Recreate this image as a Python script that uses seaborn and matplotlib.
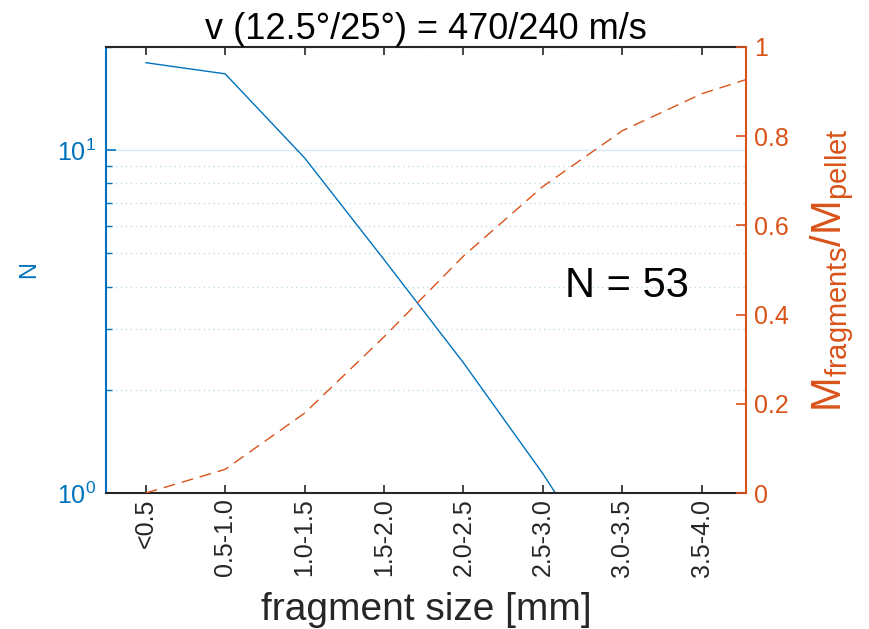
import numpy as np
import pandas as pd
import matplotlib
matplotlib.use('Agg')
import matplotlib.pyplot as plt
from matplotlib.ticker import LogLocator, NullFormatter, FixedLocator
import seaborn as sns

# fragment size bins and values
size_bins = ['<0.5', '0.5-1.0', '1.0-1.5', '1.5-2.0', '2.0-2.5',
             '2.5-3.0', '3.0-3.5', '3.5-4.0', '4.0-4.5']
n_fragments = [18.0, 16.7, 9.5, 4.8, 2.4, 1.14, 0.5, np.nan, np.nan]
mass_ratio = [0.0, 0.053, 0.179, 0.350, 0.531, 0.687, 0.812, 0.895, 0.952]
n_pellets = 53
title_text = 'v (12.5°/25°) = 470/240 m/s'
ratio_ticks = [0, 0.2, 0.4, 0.6, 0.8, 1]
ratio_labels = ['0', '0.2', '0.4', '0.6', '0.8', '1']

BLUE = '#0072BD'
ORANGE = '#D95319'
DARK = '#262626'

sns.set_theme(style='white')
plt.rcParams['font.family'] = ['Liberation Sans', 'DejaVu Sans']
plt.rcParams['mathtext.fontset'] = 'custom'
plt.rcParams['mathtext.rm'] = 'Liberation Sans'
plt.rcParams['mathtext.it'] = 'Liberation Sans:italic'
plt.rcParams['mathtext.default'] = 'regular'

df = pd.DataFrame({
    'pos': np.arange(len(size_bins)),
    'N': n_fragments,
    'ratio': mass_ratio,
})

fig = plt.figure(figsize=(8.69, 6.29), dpi=100)
ax = fig.add_axes([0.122, 0.2162, 0.7365, 0.7091])
ax.set_yscale('log')

# left axis: number of fragments
sns.lineplot(data=df, x='pos', y='N', ax=ax, color=BLUE, linewidth=1.0,
             errorbar=None)

# right axis: mass fraction of fragments
ax2 = ax.twinx()
sns.lineplot(data=df, x='pos', y='ratio', ax=ax2, color=ORANGE, linewidth=1.0,
             linestyle=(0, (8.5, 5)), errorbar=None)

ax.set_ylim(1, 20)
ax.yaxis.set_major_locator(LogLocator(base=10))
ax.yaxis.set_minor_locator(LogLocator(base=10, subs=np.arange(2, 10)))
ax.yaxis.set_minor_formatter(NullFormatter())
ax.grid(False)
ax.yaxis.grid(True, which='major', color=BLUE, alpha=0.15, linewidth=1.0)
ax.yaxis.grid(True, which='minor', color=BLUE, alpha=0.25, linewidth=1.0,
              linestyle=(0, (1, 2.5)))
ax.set_axisbelow(True)

ax.set_xticks(df['pos'])
ax.set_xticklabels(size_bins, rotation=90, fontsize=18, color=DARK)
# last bin runs past the right edge, as in the original
ax.set_xlim(-0.5, 7.56)
ax.tick_params(axis='x', which='major', direction='in', bottom=True, top=True,
               length=6, width=1.2, color=DARK, pad=4)
ax.tick_params(axis='y', which='major', direction='in', left=True, length=7,
               width=1.2, color=BLUE, labelcolor=BLUE, labelsize=18, pad=7)
ax.tick_params(axis='y', which='minor', direction='in', left=True, length=4,
               width=1.0, color=BLUE)
ax.set_xlabel('fragment size [mm]', fontsize=28, color=DARK, labelpad=11)
ax.set_ylabel('N', fontsize=17, color=BLUE, labelpad=12)
ax.set_title(title_text, fontsize=26, color='black', pad=4)

for side in ['top', 'bottom']:
    ax.spines[side].set_color(DARK)
    ax.spines[side].set_linewidth(1.5)
ax.spines['left'].set_color(BLUE)
ax.spines['left'].set_linewidth(1.5)
ax.spines['right'].set_visible(False)

ax2.set_ylim(0, 1)
ax2.yaxis.set_major_locator(FixedLocator(ratio_ticks))
ax2.set_yticklabels(ratio_labels)
ax2.tick_params(axis='y', which='major', direction='in', right=True, length=7,
                width=1.2, color=ORANGE, labelcolor=ORANGE, labelsize=18, pad=6)
ax2.set_ylabel(r'$\mathrm{M_{fragments}/M_{pellet}}$', fontsize=30,
               color=ORANGE, labelpad=14)
ax2.spines['right'].set_color(ORANGE)
ax2.spines['right'].set_linewidth(1.5)
for side in ['left', 'top', 'bottom']:
    ax2.spines[side].set_visible(False)

ax2.text(5.28, 0.44, f'N = {n_pellets}', fontsize=30, color='black',
         ha='left', va='baseline')

fig.savefig('out.png', dpi=100)
